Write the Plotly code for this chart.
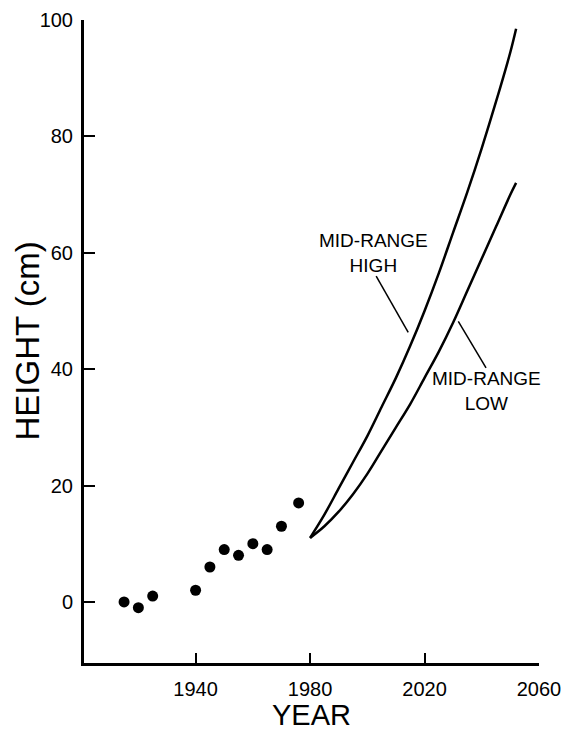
import plotly.graph_objects as go

# Observed data (points)
obs_years = [1915, 1920, 1925, 1940, 1945, 1950, 1955, 1960, 1965, 1970, 1976]
obs_height = [0.0, -1.0, 1.0, 2.0, 6.0, 9.0, 8.0, 10.0, 9.0, 13.0, 17.0]

# Projection curves
proj_years = [1980, 1985, 1990, 1995, 2000, 2005, 2010, 2015, 2020, 2025, 2030, 2035, 2040, 2045, 2050, 2052]
mid_high = [11.0, 15.0, 19.5, 24.0, 28.5, 33.5, 38.5, 44.0, 50.0, 56.5, 63.5, 70.5, 78.0, 86.0, 94.5, 98.5]
mid_low = [11.0, 13.0, 15.5, 18.5, 22.0, 26.0, 30.0, 34.0, 38.5, 43.0, 48.0, 53.5, 59.0, 64.5, 70.0, 72.0]

x_ticks = [1940, 1980, 2020, 2060]
y_ticks = [0, 20, 40, 60, 80, 100]

FONT = "Liberation Sans"

fig = go.Figure()
fig.add_trace(go.Scatter(x=obs_years, y=obs_height, mode="markers",
                         marker=dict(color="black", size=11), showlegend=False))
fig.add_trace(go.Scatter(x=proj_years, y=mid_high, mode="lines",
                         line=dict(color="black", width=2.5, shape="spline"), showlegend=False))
fig.add_trace(go.Scatter(x=proj_years, y=mid_low, mode="lines",
                         line=dict(color="black", width=2.5, shape="spline"), showlegend=False))

# curve labels
for txt, x, y in [("MID-RANGE<br>HIGH", 2002.0, 60.0),
                  ("MID-RANGE<br>LOW", 2041.5, 36.3)]:
    fig.add_annotation(x=x, y=y, text=txt, showarrow=False,
                       font=dict(family=FONT, size=19, color="black"))

# leader lines
fig.add_shape(type="line", x0=2003.1, y0=56.0, x1=2014.3, y1=46.3,
              line=dict(color="black", width=1.5))
fig.add_shape(type="line", x0=2031.8, y0=48.2, x1=2041.5, y1=40.2,
              line=dict(color="black", width=1.5))

# axis titles
fig.add_annotation(x=0.5, y=0, xref="paper", yref="paper", text="YEAR",
                   showarrow=False, yanchor="middle", yshift=-52,
                   font=dict(family=FONT, size=29, color="black"))
fig.add_annotation(x=0, y=0.5, xref="paper", yref="paper", text="HEIGHT (cm)",
                   showarrow=False, textangle=-90, xanchor="center", xshift=-57,
                   font=dict(family=FONT, size=33, color="black"))

fig.update_layout(
    width=570, height=734,
    margin=dict(l=84, r=31, t=20, b=71),
    paper_bgcolor="white", plot_bgcolor="white",
    font=dict(family=FONT, color="black"),
)
fig.update_xaxes(range=[1901, 2060], tickvals=x_ticks, ticktext=[str(v) for v in x_ticks],
                 ticks="inside", ticklen=10, tickwidth=2, tickcolor="black",
                 showline=True, linecolor="black", linewidth=2.5,
                 showgrid=False, zeroline=False, automargin=False,
                 tickfont=dict(family=FONT, size=20),
                 ticklabelstandoff=6)
fig.update_yaxes(range=[-10.5, 100], tickvals=y_ticks,
                 ticks="inside", ticklen=11, tickwidth=2, tickcolor="black",
                 showline=True, linecolor="black", linewidth=3,
                 showgrid=False, zeroline=False, automargin=False,
                 tickfont=dict(family=FONT, size=20),
                 ticklabelstandoff=4)

fig.write_html("out.html")
